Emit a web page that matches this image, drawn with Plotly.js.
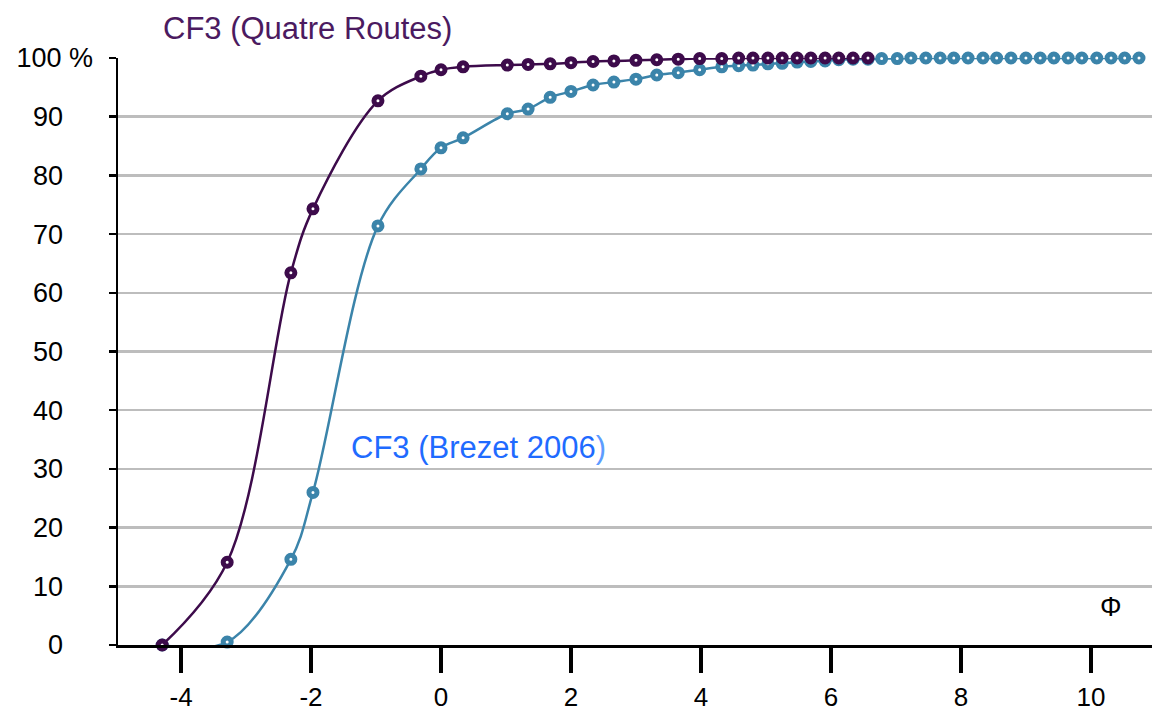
<!DOCTYPE html>
<html>
<head>
<meta charset="utf-8">
<script src="https://cdn.plot.ly/plotly-3.0.1.min.js"></script>
<style>html,body{margin:0;padding:0;background:#fff;}#chart{width:1152px;height:714px;}</style>
</head>
<body>
<div id="chart"></div>
<script>
// Φ values (x) and cumulative percentages (y)
const phiQuatre = [-4.29,-3.29,-2.31,-1.97,-0.97,-0.31,0.00,0.34,1.02,1.34,1.68,2.00,2.34,2.66,3.00,3.32,3.65,3.98,4.32,4.58,4.80,5.03,5.25,5.48,5.69,5.91,6.12,6.34,6.57];
const cumQuatre = [0,14.1,63.4,74.3,92.7,96.9,98.0,98.5,98.8,98.9,99.0,99.2,99.4,99.5,99.6,99.7,99.8,99.9,99.9,100,100,100,100,100,100,100,100,100,100];

const phiBrezet = [-4.29,-3.29,-2.31,-1.97,-0.97,-0.31,0.00,0.34,1.02,1.34,1.68,2.00,2.34,2.66,3.00,3.32,3.65,3.98,4.32,4.58,4.80,5.03,5.25,5.48,5.69,5.91,6.12,6.34,6.57,
                   6.78,7.02,7.23,7.46,7.68,7.89,8.11,8.34,8.55,8.77,9.00,9.22,9.43,9.65,9.86,10.09,10.31,10.52,10.74];
const cumBrezet = [0,0.5,14.6,26.0,71.4,81.1,84.7,86.4,90.5,91.3,93.3,94.3,95.4,95.9,96.4,97.1,97.5,98.0,98.5,98.7,98.8,99.0,99.1,99.3,99.4,99.5,99.7,99.8,99.8,
                   99.9,99.9,100,100,100,100,100,100,100,100,100,100,100,100,100,100,100,100,100];

const xTickVals = [-4,-2,0,2,4,6,8,10];
const xTickText = ["-4","-2","0","2","4","6","8","10"];
const yTickVals = [0,10,20,30,40,50,60,70,80,90,100];
const yTickText = ["0","10","20","30","40","50","60","70","80","90","100 %"];

const labelQuatre = "CF3 (Quatre Routes)";
const labelBrezet = "CF3 (Brezet 2006";
const axisLabel = "Φ";

const purple = "#3d0b4b";
const blue = "#3b84aa";
const FONT = "Liberation Sans, Arial, Helvetica, sans-serif";
const pad = "\u00a0\u00a0\u00a0\u00a0";

const traces = [
  {
    x: phiBrezet, y: cumBrezet, type: "scatter", mode: "lines+markers",
    line: {color: blue, width: 2.5, shape: "spline", smoothing: 1},
    marker: {symbol: "circle", size: 8, color: "#ffffff", line: {color: blue, width: 5}},
    cliponaxis: false, hoverinfo: "x+y"
  },
  {
    x: phiQuatre, y: cumQuatre, type: "scatter", mode: "lines+markers",
    line: {color: purple, width: 2.5, shape: "spline", smoothing: 1},
    marker: {symbol: "circle", size: 8, color: "#ffffff", line: {color: purple, width: 5}},
    cliponaxis: false, hoverinfo: "x+y"
  }
];

const layout = {
  width: 1152, height: 714,
  margin: {l: 118, r: 0, t: 58, b: 69},
  paper_bgcolor: "#ffffff", plot_bgcolor: "#ffffff",
  showlegend: false,
  font: {family: FONT, color: "#000000"},
  xaxis: {
    range: [-4.97, 10.94],
    tickvals: xTickVals, ticktext: xTickText,
    ticks: "outside", ticklen: 25, tickwidth: 4, tickcolor: "#000000",
    showline: true, linecolor: "#000000", linewidth: 2.5,
    showgrid: false, zeroline: false,
    tickfont: {family: FONT, size: 26, color: "#000000"},
    ticklabelstandoff: 2
  },
  yaxis: {
    range: [0, 100],
    tickvals: yTickVals,
    ticktext: yTickText.map((t, i) => i === yTickText.length - 1 ? t : t + pad),
    ticks: "outside", ticklen: 7, tickwidth: 2.5, tickcolor: "#000000",
    showline: true, linecolor: "#000000", linewidth: 2.5,
    showgrid: true, gridcolor: "#bdbdbd", gridwidth: 2.5,
    zeroline: false,
    tickfont: {family: FONT, size: 27, color: "#000000"},
    ticklabelstandoff: 10
  },
  annotations: [
    {xref: "x", yref: "paper", x: -2.06, y: 1.051, text: labelQuatre, showarrow: false,
     font: {family: FONT, size: 31, color: "#4b1a60"}, xanchor: "center", yanchor: "middle"},
    {xref: "x", yref: "y", x: 0.58, y: 33.7,
     text: labelBrezet + "<span style='color:#5d9cff'>)</span>", showarrow: false,
     font: {family: FONT, size: 31, color: "#1f6bff"}, xanchor: "center", yanchor: "middle"},
    {xref: "x", yref: "y", x: 10.31, y: 6.5, text: axisLabel, showarrow: false,
     font: {family: FONT, size: 27, color: "#000000"}, xanchor: "center", yanchor: "middle"}
  ]
};

Plotly.newPlot("chart", traces, layout, {staticPlot: true, displayModeBar: false});
</script>
</body>
</html>
